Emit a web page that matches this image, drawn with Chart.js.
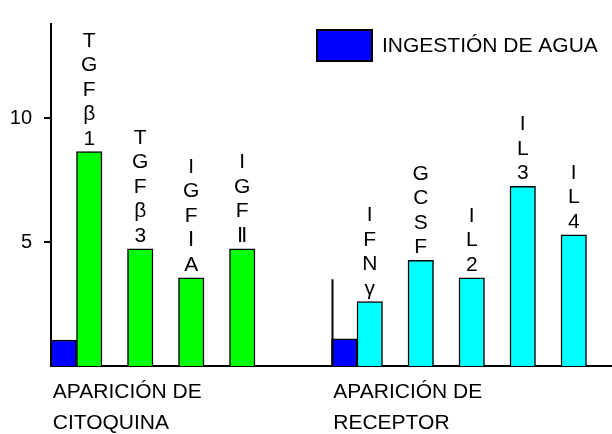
<!DOCTYPE html>
<html>
<head>
<meta charset="utf-8">
<title>Ingestión de agua</title>
<script src="https://cdn.jsdelivr.net/npm/chart.js@4.4.1/dist/chart.umd.min.js"></script>
<style>
  html, body { margin: 0; padding: 0; background: #fff; }
  canvas { display: block; }
</style>
</head>
<body>
<canvas id="aguaChart" width="612" height="434"></canvas>
<script>
// values
const groupNames = [['APARICIÓN DE', 'CITOQUINA'], ['APARICIÓN DE', 'RECEPTOR']];
const aguaLabel = 'INGESTIÓN DE AGUA';
const aguaValues = [1.05, 1.1];
const citoquinaLabels = ['TGFβ1', 'TGFβ3', 'IGFⅠA', 'IGFⅡ'];
const citoquinaValues = [8.65, 4.73, 3.56, 4.73];
const receptorLabels = ['IFNγ', 'GCSF', 'IL2', 'IL3', 'IL4'];
const receptorValues = [2.6, 4.26, 3.56, 7.25, 5.29];
const receptorAxisTop = 3.5;
const yTicks = [5, 10];
const yMax = 13.8;

const FONT = "'Liberation Sans', Arial, sans-serif";

// one category slot per bar, with empty slots between bars and groups
const labels = [];
const aguaData = [];
const citoquinaData = [];
const receptorData = [];
const groupStart = {};

function pushSlot(label, agua, cito, rec) {
  labels.push(label);
  aguaData.push(agua);
  citoquinaData.push(cito);
  receptorData.push(rec);
}

function pushGroup(groupIndex, names, values, isReceptor) {
  groupStart[labels.length] = groupNames[groupIndex];
  pushSlot('', aguaValues[groupIndex], null, null);
  names.forEach((name, i) => {
    if (i > 0) pushSlot('', null, null, null);
    if (isReceptor) pushSlot(name, null, null, values[i]);
    else pushSlot(name, null, values[i], null);
  });
}

pushGroup(0, citoquinaLabels, citoquinaValues, false);
for (let k = 0; k < 3; k++) pushSlot('', null, null, null);
pushGroup(1, receptorLabels, receptorValues, true);
pushSlot('', null, null, null);

// letters stacked above each bar
const barLetters = {
  id: 'barLetters',
  afterDatasetsDraw(chart) {
    const ctx = chart.ctx;
    ctx.save();
    ctx.font = '21px ' + FONT;
    ctx.fillStyle = '#000';
    ctx.textAlign = 'center';
    ctx.textBaseline = 'alphabetic';
    [1, 2].forEach(ds => {
      const meta = chart.getDatasetMeta(ds);
      meta.data.forEach((bar, i) => {
        if (chart.data.datasets[ds].data[i] == null) return;
        const chars = Array.from(chart.data.labels[i]);
        chars.forEach((c, k) => {
          ctx.fillText(c, bar.x, bar.y - 7 - (chars.length - 1 - k) * 24.5);
        });
      });
    });
    ctx.restore();
  }
};

// short vertical line at the start of the receptor group
const receptorAxis = {
  id: 'receptorAxis',
  afterDatasetsDraw(chart) {
    const meta = chart.getDatasetMeta(0);
    const idx = aguaData.findIndex((v, i) => v != null && i > 0);
    const bar = meta.data[idx];
    const y = chart.scales.y;
    const x = Math.round(bar.x - bar.width / 2) + 0.5;
    const ctx = chart.ctx;
    ctx.save();
    ctx.strokeStyle = '#000';
    ctx.lineWidth = 2;
    ctx.beginPath();
    ctx.moveTo(x, y.getPixelForValue(0));
    ctx.lineTo(x, y.getPixelForValue(receptorAxisTop));
    ctx.stroke();
    ctx.restore();
  }
};

// legend box sitting inside the plot
const aguaLegend = {
  id: 'aguaLegend',
  afterDraw(chart) {
    const ds = chart.data.datasets[0];
    const ctx = chart.ctx;
    ctx.save();
    ctx.fillStyle = ds.backgroundColor;
    ctx.fillRect(317, 30, 55, 31);
    ctx.strokeStyle = '#000';
    ctx.lineWidth = 2;
    ctx.strokeRect(317, 30, 55, 31);
    ctx.fillStyle = '#000';
    ctx.font = '21px ' + FONT;
    ctx.textAlign = 'left';
    ctx.textBaseline = 'middle';
    ctx.fillText(ds.label, 382, 46);
    ctx.restore();
  }
};

Chart.defaults.font.family = FONT;
Chart.defaults.color = '#000';

new Chart(document.getElementById('aguaChart').getContext('2d'), {
  type: 'bar',
  data: {
    labels: labels,
    datasets: [
      {
        label: aguaLabel,
        data: aguaData,
        backgroundColor: '#0000ff',
        borderColor: '#000',
        borderWidth: 1.5,
      },
      {
        label: 'CITOQUINA',
        data: citoquinaData,
        backgroundColor: '#00ff00',
        borderColor: '#000',
        borderWidth: 1.5,
      },
      {
        label: 'RECEPTOR',
        data: receptorData,
        backgroundColor: '#00ffff',
        borderColor: '#000',
        borderWidth: 1.5,
      },
    ],
  },
  options: {
    responsive: false,
    animation: false,
    grouped: false,
    barPercentage: 1,
    categoryPercentage: 1,
    layout: { padding: { top: 14, left: 0, right: 0, bottom: 0 } },
    plugins: {
      legend: { display: false },
      tooltip: { enabled: false },
    },
    scales: {
      x: {
        grid: { display: false, drawTicks: false },
        border: { display: true, color: '#000', width: 2 },
        ticks: {
          autoSkip: false,
          maxRotation: 0,
          minRotation: 0,
          align: 'start',
          labelOffset: -11,
          padding: 11,
          font: { size: 21, lineHeight: 31 / 21 },
          callback: (value, index) => groupStart[index] || '',
        },
        afterFit: (scale) => { scale.height = 68; },
      },
      y: {
        min: 0,
        max: yMax,
        grid: {
          display: true,
          drawOnChartArea: false,
          drawTicks: true,
          tickLength: 7,
          color: '#000',
          lineWidth: 2,
        },
        border: { display: true, color: '#000', width: 2 },
        ticks: { padding: 12, font: { size: 20 } },
        afterBuildTicks: (scale) => { scale.ticks = yTicks.map(v => ({ value: v })); },
        afterFit: (scale) => { scale.width = 51; },
      },
    },
  },
  plugins: [barLetters, receptorAxis, aguaLegend],
});
</script>
</body>
</html>
